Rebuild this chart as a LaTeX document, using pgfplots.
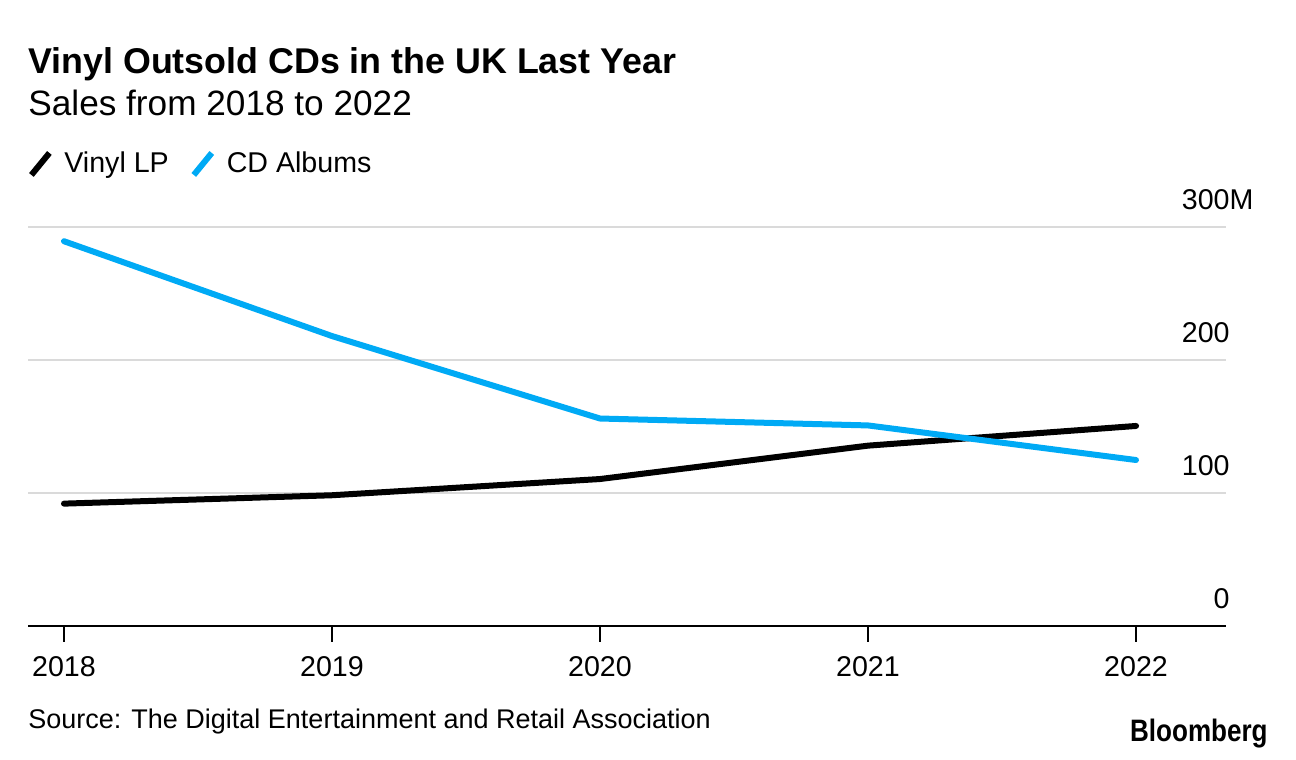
\documentclass[border=0pt]{standalone}
\usepackage{pgfplots}
\pgfplotsset{compat=1.18}
\usepackage{fontspec}
\setmainfont{Liberation Sans}
\definecolor{cdblue}{RGB}{0,170,245}
\definecolor{gridgray}{RGB}{218,218,218}
\begin{document}
\begin{tikzpicture}
\path[use as bounding box] (0,0) rectangle (648pt,380pt);
\begin{axis}[
  at={(14pt,67pt)}, anchor=south west,
  scale only axis, width=599pt, height=199.5pt,
  xmin=2017.8657, xmax=2022.3358, ymin=0, ymax=300,
  axis x line=bottom, axis y line=right,
  x axis line style={-, line width=1.2pt, black},
  y axis line style={draw=none},
  ytick={0,100,200,300},
  yticklabels={0,100,200,300\rlap{M}},
  ymajorgrids, major grid style={gridgray, line width=1pt},
  y tick style={draw=none},
  xtick={2018,2019,2020,2021,2022},
  xticklabels={2018,2019,2020,2021,2022},
  x tick style={black, line width=0.6pt},
  tick align=outside, major tick length=8pt,
  yticklabel style={anchor=base east, inner sep=0pt, xshift=-6pt, yshift=8.5pt, font=\fontsize{14.3}{16}\selectfont},
  xticklabel style={anchor=base, inner sep=0pt, yshift=-17.5pt, font=\fontsize{14.3}{16}\selectfont},
  legend style={at={(axis description cs:0,1.158)}, anchor=west, draw=none, fill=none,
    legend columns=2, font=\fontsize{14.3}{16}\selectfont, inner sep=0pt,
    /tikz/every even column/.append style={column sep=9pt}},
  legend image code/.code={\draw[#1, line width=3pt, line cap=butt] (0pt,-5.5pt) -- (9pt,5.5pt); \path (13pt,0pt);},
  clip=false,
]
\addplot[black, line width=3pt, line cap=round, line join=round] coordinates {
 (2018,92.0) (2019,98.3) (2020,110.5) (2021,135.6) (2022,150.4)};
\addlegendentry{Vinyl LP}
\addplot[cdblue, line width=3pt, line cap=round, line join=round] coordinates {
 (2018,289.3) (2019,218.0) (2020,156.0) (2021,150.8) (2022,124.8)};
\addlegendentry{CD Albums}
\end{axis}
\node[anchor=base west, inner sep=0pt, font=\bfseries\fontsize{17.9}{20}\selectfont] at (14pt,343pt) {Vinyl Outsold CDs in the UK Last Year};
\node[anchor=base west, inner sep=0pt, font=\fontsize{17.6}{19}\selectfont] at (14pt,322pt) {Sales from 2018 to 2022};
\node[anchor=base west, inner sep=0pt, font=\fontsize{13.5}{15}\selectfont] at (14pt,15.5pt) {Source: The Digital Entertainment and Retail Association};
\node[anchor=base east, inner sep=0pt, font=\bfseries\fontsize{15.5}{17}\selectfont] at (634pt,9pt) {\scalebox{0.84}[1]{Bloomberg}};
\end{tikzpicture}
\end{document}
